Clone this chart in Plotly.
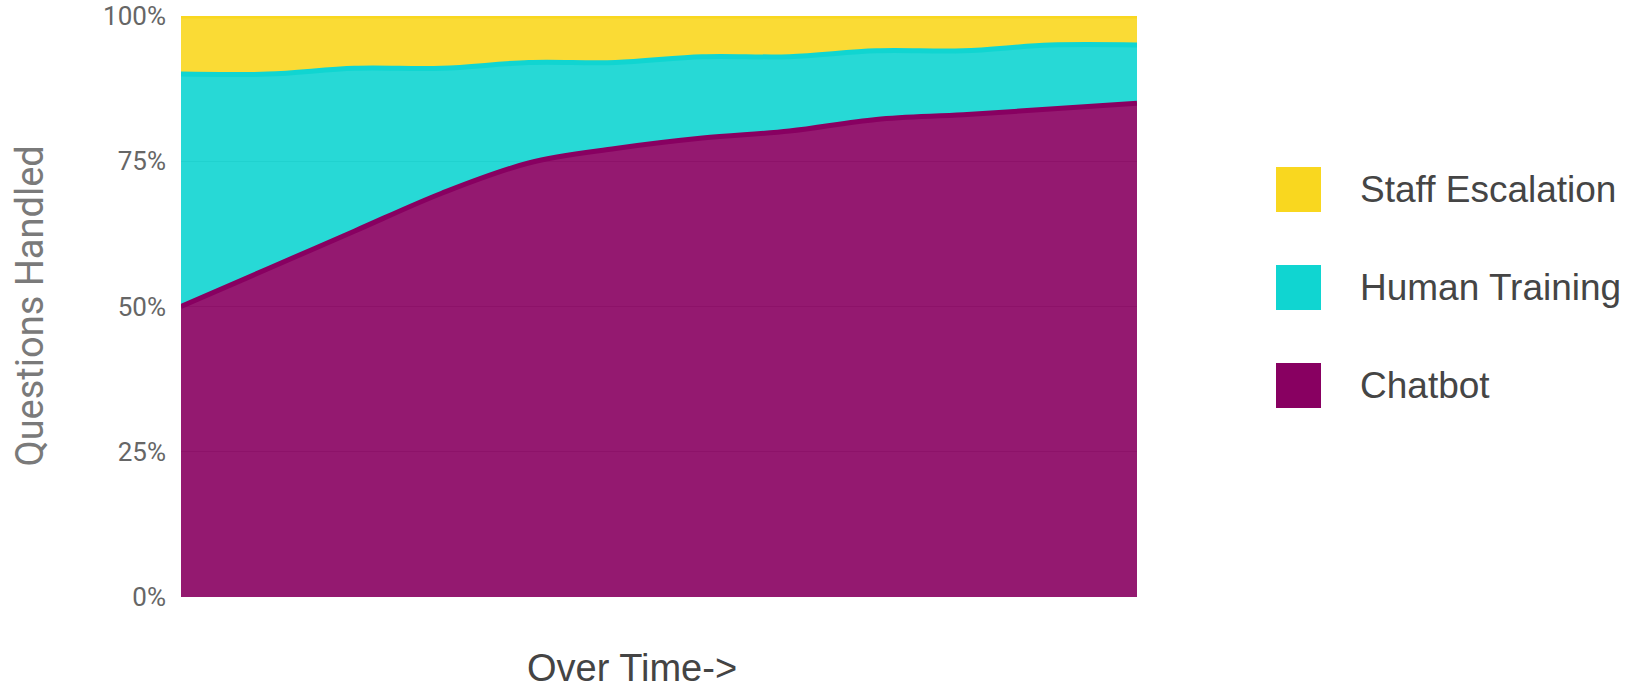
import plotly.graph_objects as go

periods = list(range(12))
chatbot = [50, 56.5, 63, 69.5, 74.7, 77.2, 79, 80.2, 82.2, 83, 84, 85]
human_training = [40, 33.5, 28, 21.5, 17.3, 14.8, 14, 12.8, 11.8, 11, 11, 10]
staff_escalation = [10, 10, 9, 9, 8, 8, 7, 7, 6, 6, 5, 5]

series_names = ["Chatbot", "Human Training", "Staff Escalation"]
series_values = [chatbot, human_training, staff_escalation]
line_colors = ["#880061", "#10d5d1", "#f9d71f"]
fill_colors = ["rgba(136,0,97,0.9)", "rgba(16,213,209,0.9)", "rgba(249,215,31,0.9)"]

y_ticks = [0, 25, 50, 75, 100]
y_tick_labels = ["0%", "25%", "50%", "75%", "100%"]

fig = go.Figure()
for name, vals, lc, fc in zip(series_names, series_values, line_colors, fill_colors):
    fig.add_trace(go.Scatter(
        x=periods, y=vals, name=name, mode="lines",
        stackgroup="one",
        line=dict(color=lc, width=5, shape="spline", smoothing=1.0),
        fillcolor=fc, showlegend=False, hoverinfo="skip",
    ))

W, H = 1642, 690
L, R, T, B = 181, 1137, 16, 597

fig.update_layout(
    width=W, height=H,
    margin=dict(l=L, r=W - R, t=T, b=H - B, autoexpand=False),
    paper_bgcolor="white", plot_bgcolor="white",
    showlegend=False,
    xaxis=dict(range=[0, 11], showticklabels=False, showgrid=False,
               zeroline=False, showline=False, ticks="", automargin=False),
    yaxis=dict(range=[0, 100], tickvals=y_ticks, ticktext=y_tick_labels,
               showgrid=True, gridcolor="#b8b8b8", gridwidth=1,
               zeroline=False, showline=False, ticks="", automargin=False,
               ticklabelstandoff=14,
               tickfont=dict(family="Roboto", size=26, color="#666666")),
)

# y-axis title
fig.add_annotation(
    text="Questions Handled", xref="paper", yref="paper",
    x=(29 - L) / (R - L), y=0.5, textangle=-90,
    xanchor="center", yanchor="middle", showarrow=False,
    font=dict(family="Roboto", size=38, color="#7a7a7a"),
)

# x-axis title
fig.add_annotation(
    text="Over Time->", xref="paper", yref="paper",
    x=(632 - L) / (R - L), y=(B - 668) / (B - T),
    xanchor="center", yanchor="middle", showarrow=False, borderpad=0,
    font=dict(family="Liberation Sans, Arial", size=38, color="#444444"),
)

# manual legend (top to bottom)
legend_order = [2, 1, 0]
box_centers = [189.5, 287.5, 385.5]
for idx, cy in zip(legend_order, box_centers):
    y0 = (B - (cy + 22.5)) / (B - T)
    y1 = (B - (cy - 22.5)) / (B - T)
    x0 = (1276 - L) / (R - L)
    x1 = (1321 - L) / (R - L)
    fig.add_shape(type="rect", xref="paper", yref="paper",
                  x0=x0, x1=x1, y0=y0, y1=y1,
                  fillcolor=line_colors[idx], line=dict(width=0))
    fig.add_annotation(
        text=series_names[idx], xref="paper", yref="paper",
        x=(1358 - L) / (R - L), y=(B - cy) / (B - T),
        xanchor="left", yanchor="middle", showarrow=False,
        font=dict(family="Liberation Sans, Arial", size=37, color="#454545"),
    )

fig.write_html("out.html")
